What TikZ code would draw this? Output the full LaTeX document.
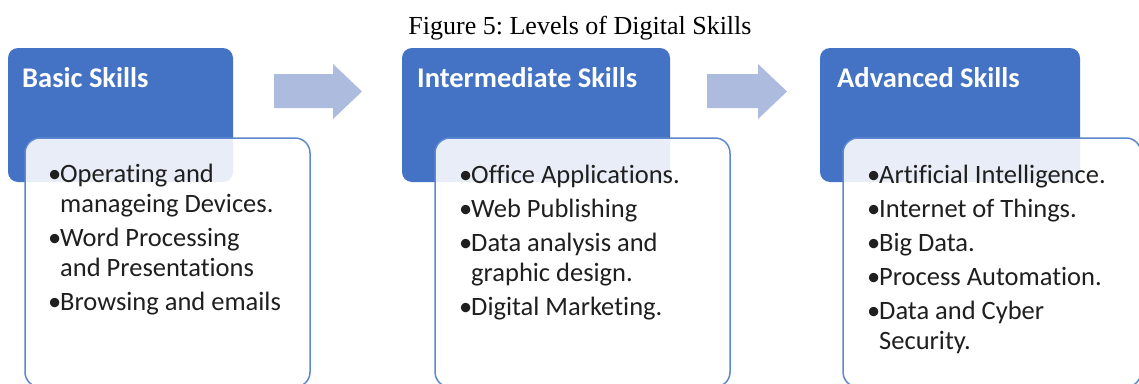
\documentclass[tikz,border=0pt]{standalone}
\usepackage{fontspec}
\setmainfont{Liberation Serif}
\newfontfamily\calibri[Ligatures=NoCommon]{Carlito}
\usepackage{tikz}
\usetikzlibrary{positioning}
\definecolor{skillblue}{HTML}{4472C4}
\definecolor{arrowblue}{HTML}{ADBBDF}
\definecolor{listborder}{HTML}{5D87D0}
\tikzset{
  headbox/.style={fill=skillblue, rounded corners=10pt, minimum height=134pt, inner sep=0pt},
  listbox/.style={draw=listborder, line width=1.5pt, fill=white, fill opacity=0.88,
    rounded corners=15pt, minimum height=249pt, inner sep=0pt},
  headtext/.style={font=\calibri\bfseries\fontsize{28.5}{32}\selectfont, text=white,
    anchor=base west, inner sep=0pt},
  listtext/.style={font=\calibri\fontsize{26.5}{30}\selectfont, text=black!88,
    anchor=base west, inner sep=0pt}
}
\newcommand{\itm}{\makebox[12pt][l]{\textbullet}}
\newcommand{\cont}{\hspace*{12pt}}
\newcommand{\skilllist}[1]{\begin{tabular}[t]{@{}l@{}}#1\end{tabular}}
\frenchspacing

\begin{document}
\begin{tikzpicture}[x=1pt,y=-1pt]
\useasboundingbox (0,0) rectangle (1139,383);

% Caption
\node[font=\fontsize{26}{30}\selectfont, anchor=base, inner sep=0pt] (caption) at (580,34) {Figure 5: Levels of Digital Skills};

% Blue heading boxes
\node[headbox, minimum width=225pt] (basic) at (120.5,115) {};
\node[headbox, minimum width=268pt] (inter) at (536,115) {};
\node[headbox, minimum width=260pt] (adv) at (950,115) {};

% White list boxes (lying over the heading boxes)
\node[listbox, minimum width=285pt] (basicbox) at (167.5,262.5) {};
\node[listbox, minimum width=295pt] (interbox) at (582.5,262.5) {};
\node[listbox, minimum width=298pt] (advbox) at (992,262.5) {};

% Block arrows between the levels
\fill[arrowblue] (274,74) -- (333,74) -- (333,64) -- (362,91.5) -- (333,119) -- (333,108) -- (274,108) -- cycle;
\fill[arrowblue] (707,74) -- (758,74) -- (758,64) -- (787,91.5) -- (758,119) -- (758,108) -- (707,108) -- cycle;

% Headings
\node[headtext] (basictitle) at (22,87) {Basic Skills};
\node[headtext] (intertitle) at (417,87) {Intermediate Skills};
\node[headtext] (advtitle) at (837,87) {Advanced Skills};

% Lists
\node[listtext] (basiclist) at (48,182) {\skilllist{\itm Operating and\\ \cont manageing Devices.\\[4pt]
  \itm Word Processing\\ \cont and Presentations\\[4pt] \itm Browsing and emails}};
\node[listtext] (interlist) at (459,183) {\skilllist{\itm Office Applications.\\[4pt] \itm Web Publishing\\[4pt]
  \itm Data analysis and\\ \cont graphic design.\\[4pt] \itm Digital Marketing.}};
\node[listtext] (advlist) at (867,183) {\skilllist{\itm Artificial Intelligence.\\[4pt] \itm Internet of Things.\\[4pt]
  \itm Big Data.\\[4pt] \itm Process Automation.\\[4pt] \itm Data and Cyber\\ \cont Security.}};
\end{tikzpicture}
\end{document}
